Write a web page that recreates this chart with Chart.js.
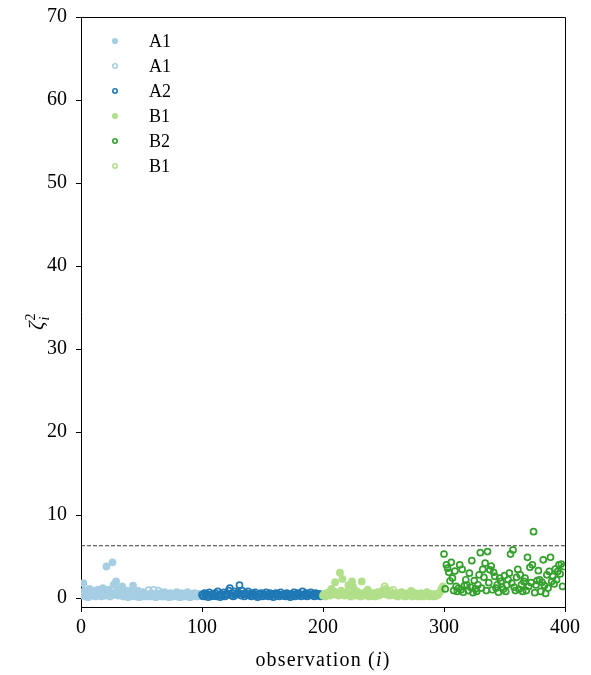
<!DOCTYPE html>
<html>
<head>
<meta charset="utf-8">
<script src="https://cdn.jsdelivr.net/npm/chart.js@4.4.1/dist/chart.umd.min.js"></script>
<style>
body { margin: 0; background: #fff; }
</style>
</head>
<body>
<canvas id="chisq" width="591" height="675"></canvas>
<script>
// observations 0-99, group A1
const obsA1 = [
    0.6, 0.3, 1.8, 0.9, 0.2, 0.5, 0.1, 1.1, 0.4, 0.7,
    0.3, 0.9, 0.2, 0.6, 1.0, 0.4, 0.8, 0.2, 1.2, 0.5,
    0.3, 3.8, 0.7, 1.0, 0.2, 0.6, 4.3, 1.6, 0.4, 2.0,
    0.9, 0.3, 1.1, 0.5, 1.4, 0.2, 0.7, 0.4, 0.9, 0.1,
    0.5, 0.3, 0.8, 1.5, 0.2, 0.6, 0.4, 0.9, 0.1, 0.5,
    0.3, 0.7, 0.2, 0.5, 0.4, 0.2, 0.95, 0.3, 0.6, 0.2,
    1.0, 0.4, 0.1, 0.5, 0.9, 0.3, 0.6, 0.2, 0.4, 0.7,
    0.2, 0.5, 0.3, 0.1, 0.6, 0.4, 0.2, 0.5, 0.3, 0.7,
    0.2, 0.4, 0.1, 0.6, 0.3, 0.5, 0.2, 0.4, 0.7, 0.3,
    0.1, 0.5, 0.2, 0.4, 0.6, 0.3, 0.2, 0.5, 0.3, 0.4
];
// observations 100-199, group A2
const obsA2 = [
    0.4, 0.2, 0.6, 0.3, 0.5, 0.1, 0.7, 0.4, 0.2, 0.5,
    0.3, 0.6, 0.2, 0.8, 0.4, 0.1, 0.5, 0.3, 0.7, 0.2,
    0.5, 0.4, 0.9, 1.2, 0.3, 0.6, 0.2, 0.8, 0.4, 0.5,
    0.7, 1.55, 0.3, 0.9, 0.5, 0.2, 0.6, 0.4, 0.8, 0.3,
    0.5, 0.2, 0.6, 0.4, 0.7, 0.3, 0.1, 0.5, 0.4, 0.6,
    0.2, 0.5, 0.3, 0.7, 0.4, 0.2, 0.6, 0.3, 0.5, 0.1,
    0.4, 0.6, 0.3, 0.5, 0.2, 0.7, 0.4, 0.3, 0.5, 0.2,
    0.6, 0.3, 0.4, 0.1, 0.5, 0.3, 0.7, 0.2, 0.4, 0.6,
    0.3, 0.5, 0.2, 0.8, 0.4, 0.3, 0.6, 0.2, 0.5, 0.4,
    0.7, 0.3, 0.5, 0.2, 0.6, 0.4, 0.3, 0.5, 0.2, 0.4
];
// observations 200-299, group B1
const obsB1 = [
    0.3, 0.5, 0.2, 0.6, 0.4, 0.7, 0.3, 1.1, 0.5, 0.8,
    1.9, 0.4, 0.6, 0.3, 3.05, 0.9, 2.3, 0.5, 0.3, 0.7,
    0.4, 1.55, 0.6, 0.2, 2.0, 1.3, 0.5, 0.3, 0.8, 0.4,
    0.6, 0.2, 2.0, 0.5, 0.3, 0.7, 0.4, 1.0, 0.2, 0.5,
    0.3, 0.6, 0.4, 0.2, 0.5, 0.7, 0.3, 0.4, 0.6, 0.9,
    0.5, 1.4, 1.1, 0.4, 0.6, 0.3, 0.8, 0.5, 1.0, 0.4,
    0.3, 0.6, 0.2, 0.5, 0.4, 0.7, 0.3, 0.5, 0.2, 0.4,
    0.6, 0.3, 0.5, 0.85, 0.2, 0.4, 0.6, 0.3, 0.5, 0.2,
    0.4, 0.6, 0.3, 0.2, 0.5, 0.4, 0.7, 0.3, 0.2, 0.5,
    0.3, 0.4, 0.2, 0.5, 0.3, 0.4, 0.6, 0.8, 1.1, 1.4
];
// observations 300-399, group B2
const obsB2 = [
    5.3, 1.1, 4.0, 3.6, 3.1, 2.05, 4.3, 2.4, 0.9, 3.25,
    1.4, 0.8, 1.2, 4.0, 1.0, 3.45, 0.7, 1.5, 2.2, 1.57,
    0.9, 3.0, 1.3, 4.5, 0.65, 2.1, 1.1, 0.8, 1.6, 2.8,
    5.46, 1.2, 3.45, 2.5, 4.2, 0.9, 5.6, 1.85, 3.4, 3.85,
    1.0, 3.1, 2.6, 1.2, 1.6, 0.7, 2.4, 2.0, 1.3, 1.05,
    2.7, 0.8, 1.57, 2.2, 3.0, 5.3, 1.8, 5.8, 1.3, 0.9,
    2.5, 3.45, 1.05, 2.8, 1.6, 0.8, 2.0, 2.4, 0.9, 4.9,
    1.4, 3.7, 1.85, 4.0, 8.0, 0.65, 1.57, 2.1, 3.3, 2.2,
    0.8, 1.9, 4.6, 1.5, 0.55, 2.8, 1.2, 3.2, 4.9, 2.0,
    2.6, 1.7, 3.5, 2.2, 3.2, 4.0, 2.9, 4.1, 1.4, 3.8
];
// observations drawn as hollow markers inside the filled groups
const a1Hollow = [56, 60, 64];
const b1Hollow = [251, 256, 258];

const threshold = 6.3;
const xTicks = [0, 100, 200, 300, 400];
const yTicks = [0, 10, 20, 30, 40, 50, 60, 70];

const serif = "'Liberation Serif', 'Times New Roman', serif";

function points(values, start, keep) {
    const out = [];
    values.forEach((v, k) => {
        if (keep(start + k)) out.push({ x: start + k, y: v });
    });
    return out;
}

function filled(label, color, data) {
    return {
        label: label, data: data,
        backgroundColor: color, borderColor: color,
        borderWidth: 0, pointRadius: 3.9, pointHoverRadius: 3.9
    };
}

function hollow(label, color, data) {
    return {
        label: label, data: data,
        backgroundColor: "rgba(0,0,0,0)", borderColor: color,
        borderWidth: 1.7, pointRadius: 3.0, pointHoverRadius: 3.0, hollow: true
    };
}

const datasets = [
    filled("A1", "#a6cee3", points(obsA1, 0, i => !a1Hollow.includes(i))),
    hollow("A1", "#a6cee3", points(obsA1, 0, i => a1Hollow.includes(i))),
    hollow("A2", "#1f78b4", points(obsA2, 100, () => true)),
    filled("B1", "#b2df8a", points(obsB1, 200, i => !b1Hollow.includes(i))),
    hollow("B2", "#33a02c", points(obsB2, 300, () => true)),
    hollow("B1", "#b2df8a", points(obsB1, 200, i => b1Hollow.includes(i))),
    {
        type: "line", label: "limit", noLegend: true,
        data: [{ x: xTicks[0], y: threshold }, { x: xTicks[xTicks.length - 1], y: threshold }],
        borderColor: "#3a3a3a", borderWidth: 1, borderDash: [4, 2],
        pointRadius: 0, fill: false
    }
];
// later series on top, like the original plot
datasets.forEach((d, k) => d.order = -k);

const decorations = {
    id: "decorations",
    afterDraw(chart) {
        const ctx = chart.ctx;
        const a = chart.chartArea;
        ctx.save();

        // top and right spines
        ctx.strokeStyle = "#000";
        ctx.lineWidth = 1;
        ctx.beginPath();
        ctx.moveTo(a.left, a.top + 0.5);
        ctx.lineTo(a.right + 0.5, a.top + 0.5);
        ctx.lineTo(a.right + 0.5, a.bottom);
        ctx.stroke();

        // legend
        let row = 0;
        chart.data.datasets.forEach(d => {
            if (d.noLegend) return;
            const y = a.top + 24 + row * 25;
            const x = a.left + 34;
            ctx.beginPath();
            if (d.hollow) {
                ctx.arc(x, y, 2.2, 0, Math.PI * 2);
                ctx.strokeStyle = d.borderColor;
                ctx.lineWidth = 1.6;
                ctx.stroke();
            } else {
                ctx.arc(x, y, 3.1, 0, Math.PI * 2);
                ctx.fillStyle = d.backgroundColor;
                ctx.fill();
            }
            ctx.fillStyle = "#000";
            ctx.font = "18px " + serif;
            ctx.textAlign = "left";
            ctx.textBaseline = "alphabetic";
            ctx.fillText(d.label, a.left + 68, y + 6);
            row++;
        });

        // y title: zeta with sub i and sup 2
        ctx.save();
        ctx.translate(43, 330);
        ctx.rotate(-Math.PI / 2);
        ctx.fillStyle = "#000";
        ctx.textBaseline = "alphabetic";
        ctx.textAlign = "left";
        ctx.font = "italic 21px " + serif;
        ctx.fillText("ζ", 0, 0);
        const zw = ctx.measureText("ζ").width;
        ctx.font = "14px " + serif;
        ctx.fillText("2", zw + 1, -8);
        ctx.font = "italic 14px " + serif;
        ctx.fillText("i", zw + 1, 6);
        ctx.restore();

        // x title: observation (i)
        ctx.fillStyle = "#000";
        ctx.textBaseline = "alphabetic";
        ctx.textAlign = "left";
        ctx.letterSpacing = "1.2px";
        const parts = [["observation (", ""], ["i", "italic "], [")", ""]];
        let total = 0;
        parts.forEach(p => {
            ctx.font = p[1] + "20px " + serif;
            total += ctx.measureText(p[0]).width;
        });
        let tx = (a.left + a.right) / 2 - total / 2;
        parts.forEach(p => {
            ctx.font = p[1] + "20px " + serif;
            ctx.fillText(p[0], tx, 666);
            tx += ctx.measureText(p[0]).width;
        });
        ctx.restore();
    }
};

new Chart(document.getElementById("chisq"), {
    type: "scatter",
    data: { datasets: datasets },
    options: {
        responsive: false,
        animation: false,
        events: [],
        layout: { padding: { left: 0, right: 26, top: 17, bottom: 0 } },
        plugins: {
            legend: { display: false },
            tooltip: { enabled: false }
        },
        scales: {
            x: {
                type: "linear",
                min: 0,
                max: 400,
                afterBuildTicks: s => { s.ticks = xTicks.map(v => ({ value: v })); },
                afterFit: s => { s.height = 68; s.paddingLeft = 0; s.paddingRight = 0; },
                grid: { drawOnChartArea: false, drawTicks: true, tickLength: 5, color: "#000" },
                border: { display: true, color: "#000", width: 1 },
                ticks: { color: "#000", padding: 4, maxRotation: 0, font: { family: serif, size: 20 } }
            },
            y: {
                type: "linear",
                min: -1.08,
                max: 70,
                afterBuildTicks: s => { s.ticks = yTicks.map(v => ({ value: v })); },
                afterFit: s => { s.width = 81; s.paddingTop = 0; s.paddingBottom = 0; },
                grid: { drawOnChartArea: false, drawTicks: true, tickLength: 5, color: "#000" },
                border: { display: true, color: "#000", width: 1 },
                ticks: { color: "#000", padding: 9, font: { family: serif, size: 20 } }
            }
        }
    },
    plugins: [decorations]
});
</script>
</body>
</html>
